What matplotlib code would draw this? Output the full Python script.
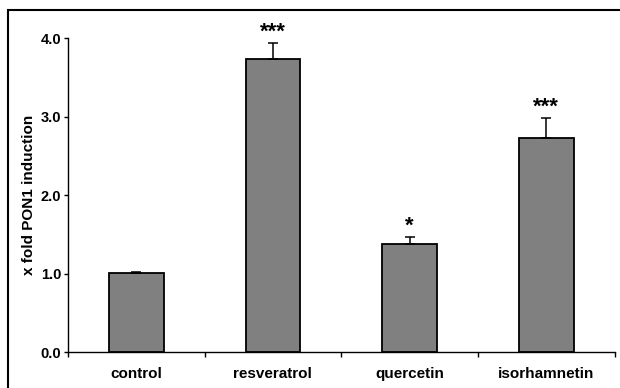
import numpy as np
import matplotlib
matplotlib.use('Agg')
import matplotlib.pyplot as plt
from matplotlib.patches import Rectangle

plt.rcParams['font.family'] = ['Liberation Sans', 'DejaVu Sans']

categories = ['control', 'resveratrol', 'quercetin', 'isorhamnetin']
values = [1.01, 3.73, 1.375, 2.73]
errors = [0.015, 0.21, 0.09, 0.25]
stars = ['', '***', '*', '***']
yticks = [0.0, 1.0, 2.0, 3.0, 4.0]

fig = plt.figure(figsize=(6.2, 3.88), dpi=100)
ax = fig.add_axes([68/620, 36/388, (614.5-68)/620, (352-38.3)/388])

x = np.arange(len(categories))
ax.bar(x, values, width=0.4, color='#808080', edgecolor='black', linewidth=1.3, zorder=2)
ax.errorbar(x, values, yerr=[np.zeros(len(errors)), errors], fmt='none',
            ecolor='black', elinewidth=1.1, capsize=3.5, capthick=1.1, zorder=3)

for xi, v, e, s in zip(x, values, errors, stars):
    if s:
        ax.annotate(s, (xi, v + e), xytext=(0, 0.5), textcoords='offset points',
                    ha='center', va='bottom', fontsize=16, fontweight='bold')

ax.set_xlim(-0.5, len(categories) - 0.5)
ax.set_ylim(0, 4.0)
ax.set_yticks(yticks)
ax.set_yticklabels(['%.1f' % t for t in yticks], fontsize=10.5, fontweight='bold')
ax.set_xticks(x)
ax.set_xticklabels(categories, fontsize=11, fontweight='bold')
ax.set_xticks(np.arange(-0.5, len(categories)), minor=True)
ax.tick_params(axis='x', which='major', length=0, pad=11)
ax.tick_params(axis='x', which='minor', length=3.5, width=1, direction='out')
ax.tick_params(axis='y', length=3, width=1, direction='out', pad=2)
ax.set_ylabel('x fold PON1 induction', fontsize=11, fontweight='bold', labelpad=3.5)

for side in ['top', 'right']:
    ax.spines[side].set_visible(False)
for side in ['left', 'bottom']:
    ax.spines[side].set_linewidth(1)

# outer frame, runs off the right and bottom edge
fig.patches.append(Rectangle((8/620, -0.1), 1.1, 1 - 10/388 + 0.1, transform=fig.transFigure,
                             fill=False, edgecolor='black', linewidth=1.5))

fig.savefig('out.png', dpi=100)
